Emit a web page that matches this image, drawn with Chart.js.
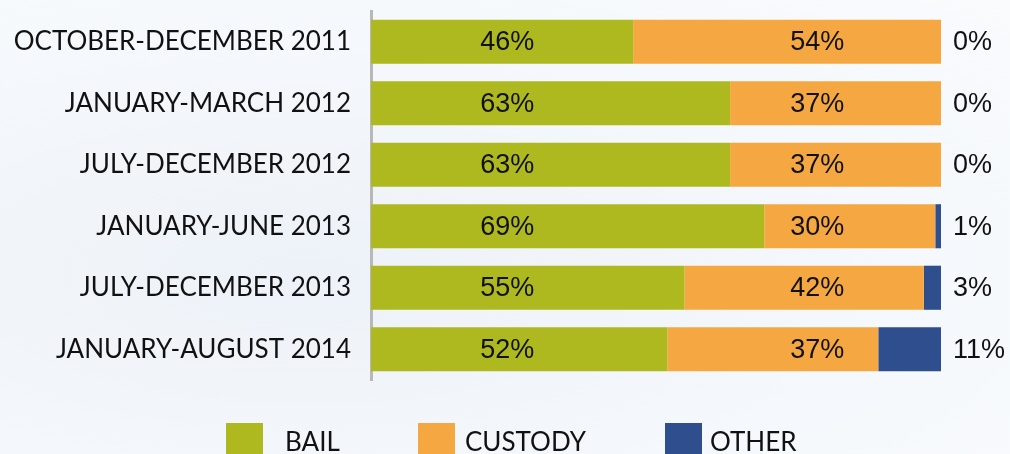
<!DOCTYPE html>
<html>
<head>
<meta charset="utf-8">
<script src="https://cdn.jsdelivr.net/npm/chart.js@4.4.1/dist/chart.umd.min.js"></script>
<style>
  html, body { margin: 0; padding: 0; width: 1010px; height: 454px; overflow: hidden;
    background: radial-gradient(ellipse at 30% 60%, #edf2f8 0%, #f5f8fc 60%, #f9fbfd 100%); }
  #wrap { position: relative; width: 1010px; height: 454px; }
</style>
</head>
<body>
<div id="wrap"><canvas id="c" width="1010" height="454"></canvas></div>
<script>
const categories = [
  "OCTOBER-DECEMBER 2011",
  "JANUARY-MARCH 2012",
  "JULY-DECEMBER 2012",
  "JANUARY-JUNE 2013",
  "JULY-DECEMBER 2013",
  "JANUARY-AUGUST 2014"
];
const seriesNames = ["BAIL", "CUSTODY", "OTHER"];
const bail    = [46, 63, 63, 69, 55, 52];
const custody = [54, 37, 37, 30, 42, 37];
const other   = [0, 0, 0, 1, 3, 11];

const colors = ["#aeb920", "#f5a841", "#2e4e8d"];
const catFont = "Lato";
const valFont = "'Liberation Sans', Arial, sans-serif";

const labelPlugin = {
  id: 'valueLabels',
  afterDatasetsDraw(chart) {
    const ctx = chart.ctx;
    const ca = chart.chartArea;
    const w = ca.right - ca.left;
    ctx.save();
    ctx.font = "27px " + valFont;
    ctx.fillStyle = "#111";
    ctx.textBaseline = "middle";
    chart.data.datasets.forEach((ds, di) => {
      const meta = chart.getDatasetMeta(di);
      meta.data.forEach((bar, i) => {
        const y = bar.y + 1;
        const txt = ds.data[i] + "%";
        if (di === 0) { ctx.textAlign = "center"; ctx.fillText(txt, ca.left + 0.239 * w, y); }
        else if (di === 1) { ctx.textAlign = "center"; ctx.fillText(txt, ca.left + 0.783 * w, y); }
        else { ctx.textAlign = "left"; ctx.fillText(txt, ca.right + 12, y); }
      });
    });
    ctx.restore();
  }
};

const legendBoxX = [226, 418, 665];
const legendTextGap = [22, 10, 8];
const legendPlugin = {
  id: 'bottomLegend',
  afterDraw(chart) {
    const ctx = chart.ctx;
    ctx.save();
    ctx.font = "26px " + catFont;
    const box = 37, top = 423;
    ctx.textBaseline = "middle";
    ctx.textAlign = "left";
    chart.data.datasets.forEach((ds, i) => {
      const x = legendBoxX[i];
      ctx.fillStyle = ds.backgroundColor;
      ctx.fillRect(x, top, box, box);
      ctx.fillStyle = "#111";
      ctx.fillText(ds.label, x + box + legendTextGap[i], top + box / 2 + 1);
    });
    ctx.restore();
  }
};

new Chart(document.getElementById('c'), {
  type: 'bar',
  data: {
    labels: categories,
    datasets: [
      { label: seriesNames[0], data: bail, backgroundColor: colors[0] },
      { label: seriesNames[1], data: custody, backgroundColor: colors[1] },
      { label: seriesNames[2], data: other, backgroundColor: colors[2] }
    ]
  },
  options: {
    indexAxis: 'y',
    responsive: false,
    animation: false,
    events: [],
    layout: { padding: { left: 0, right: 69, top: 11, bottom: 74 } },
    datasets: { bar: { categoryPercentage: 0.717, barPercentage: 1.0, borderWidth: 0 } },
    scales: {
      x: { stacked: true, display: false, min: 0, max: 100 },
      y: {
        stacked: true,
        grid: { display: false, drawTicks: false },
        border: { display: true, color: "#b8b8b8", width: 3 },
        ticks: { color: "#111", font: { family: catFont, size: 26 }, padding: 20, autoSkip: false },
        afterFit(scale) { scale.width = 371; scale.paddingTop = 0; scale.paddingBottom = 0; }
      }
    },
    plugins: { legend: { display: false }, tooltip: { enabled: false } }
  },
  plugins: [labelPlugin, legendPlugin]
});
</script>
</body>
</html>
